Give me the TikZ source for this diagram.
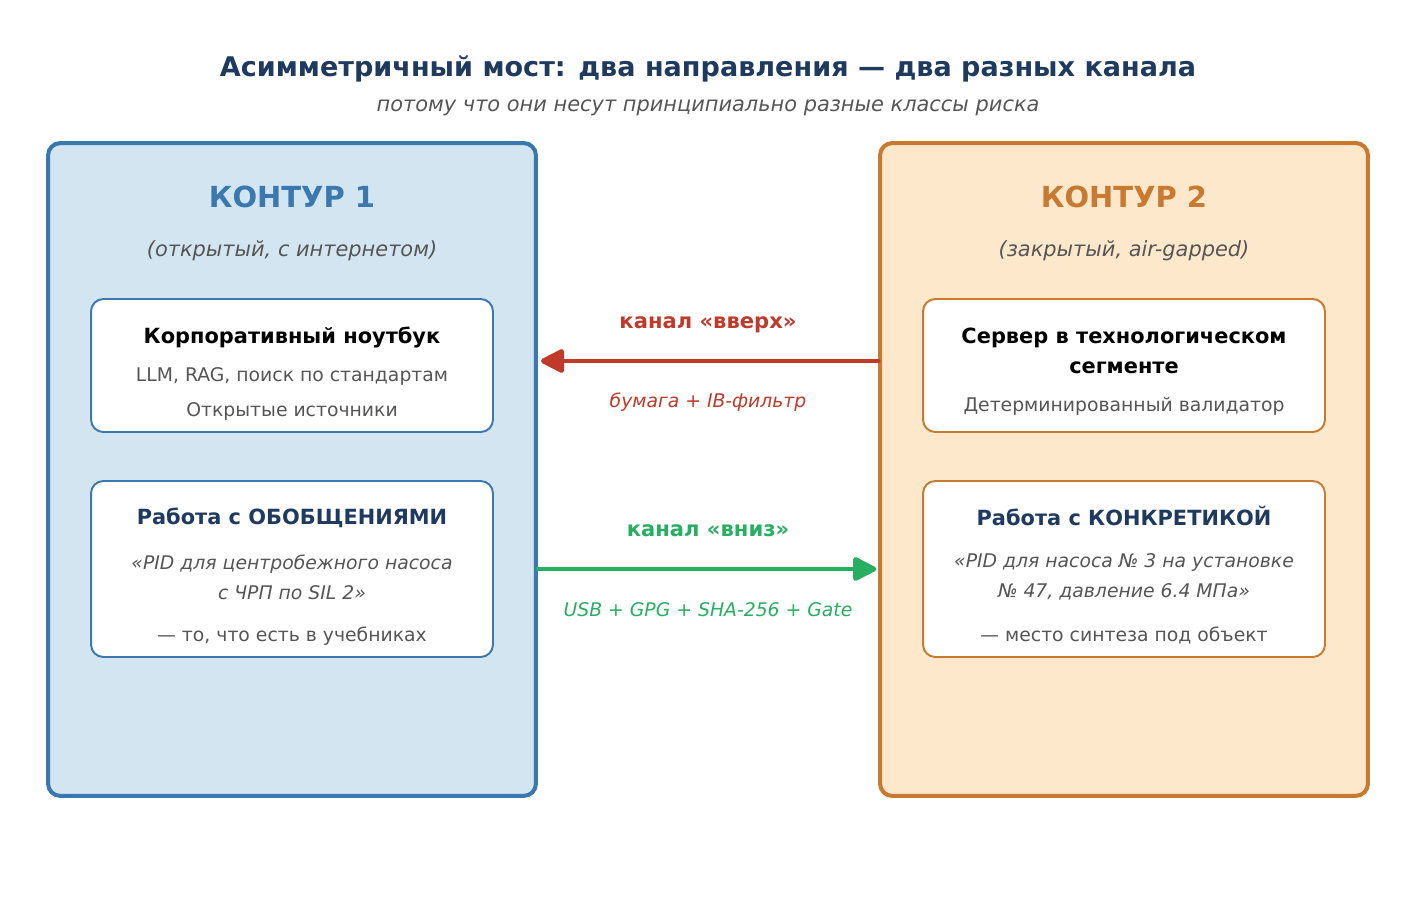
\documentclass[tikz,border=0pt]{standalone}
\usepackage{fontspec}
\setmainfont{DejaVu Sans}
\usetikzlibrary{arrows.meta}
\definecolor{navy}{HTML}{1F3A5F}
\definecolor{greytxt}{HTML}{555555}
\definecolor{kblue}{HTML}{3A78B0}
\definecolor{kbluefill}{HTML}{D4E5F2}
\definecolor{korange}{HTML}{C87A30}
\definecolor{korangefill}{HTML}{FEE8CB}
\definecolor{upred}{HTML}{C0392B}
\definecolor{downgreen}{HTML}{27AE60}
\tikzset{
  outerbox/.style={draw=#1, line width=2.3pt, rounded corners=7pt,
    minimum width=9.76cm, minimum height=13.06cm, inner sep=0pt},
  innerbox/.style={draw=#1, fill=white, line width=1.1pt, rounded corners=7pt,
    minimum width=8.04cm, inner sep=0pt},
  kontur/.style={font=\bfseries\fontsize{16.5pt}{19pt}\selectfont, text=#1},
  kontursub/.style={font=\itshape\fontsize{11.9pt}{14pt}\selectfont, text=greytxt},
  boxhead/.style={font=\bfseries\fontsize{11.9pt}{17pt}\selectfont, align=center},
  boxtext/.style={font=\fontsize{10.7pt}{17pt}\selectfont, text=greytxt, align=center},
  boxquote/.style={font=\itshape\fontsize{10.7pt}{17pt}\selectfont, text=greytxt, align=center},
  chanarrow/.style={line width=2.8pt, -{Triangle[length=15pt,width=14.5pt,round]}, draw=#1},
  chanhead/.style={font=\bfseries\fontsize{12pt}{14pt}\selectfont, text=#1},
  chantext/.style={font=\itshape\fontsize{10.7pt}{13pt}\selectfont, text=#1},
}
\begin{document}
\begin{tikzpicture}[x=0.02cm,y=-0.02cm,line cap=round,line join=round]
  \useasboundingbox (0,0) rectangle (1416,896);
  % title
  \node[font=\bfseries\fontsize{15.4pt}{18pt}\selectfont, text=navy] (title) at (708,69)
    {Асимметричный мост: два направления — два разных канала};
  \node[font=\itshape\fontsize{11.9pt}{14pt}\selectfont, text=greytxt] (subtitle) at (708,108)
    {потому что они несут принципиально разные классы риска};
  % contour 1
  \node[outerbox=kblue, fill=kbluefill] (k1) at (292,469.5) {};
  \node[kontur=kblue] (k1title) at (292,197) {КОНТУР 1};
  \node[kontursub] (k1sub) at (292,251) {(открытый, с интернетом)};
  \node[innerbox=kblue, minimum height=2.66cm] (laptop) at (292,365.5) {};
  \node[boxhead] (laptophead) at (292,337) {Корпоративный ноутбук};
  \node[boxtext] (laptopt1) at (292,376) {LLM, RAG, поиск по стандартам};
  \node[boxtext] (laptopt2) at (292,411) {Открытые источники};
  \node[innerbox=kblue, minimum height=3.52cm] (general) at (292,569) {};
  \node[boxhead, text=navy] (generalhead) at (292,518) {Работа с ОБОБЩЕНИЯМИ};
  \node[boxquote] (generalq) at (292,577) {«PID для центробежного насоса\\с ЧРП по SIL 2»};
  \node[boxtext] (generalt) at (292,636) {— то, что есть в учебниках};
  % contour 2
  \node[outerbox=korange, fill=korangefill] (k2) at (1124,469.5) {};
  \node[kontur=korange] (k2title) at (1124,197) {КОНТУР 2};
  \node[kontursub] (k2sub) at (1124,251) {(закрытый, air-gapped)};
  \node[innerbox=korange, minimum height=2.66cm] (server) at (1124,365.5) {};
  \node[boxhead] (serverhead) at (1124,351) {Сервер в технологическом\\сегменте};
  \node[boxtext] (servert) at (1124,406) {Детерминированный валидатор};
  \node[innerbox=korange, minimum height=3.52cm] (concrete) at (1124,569) {};
  \node[boxhead, text=navy] (concretehead) at (1124,516) {Работа с КОНКРЕТИКОЙ};
  \node[boxquote] (concreteq) at (1124,577) {«PID для насоса № 3 на установке\\№ 47, давление 6.4 МПа»};
  \node[boxtext] (concretet) at (1124,635) {— место синтеза под объект};
  % channels
  \coordinate (uplevel) at (708,361);
  \coordinate (downlevel) at (708,569);
  \draw[chanarrow=upred] (k2.west |- uplevel) -- ([xshift=1.7pt]k1.east |- uplevel);
  \node[chanhead=upred] (uphead) at (708,325) {канал «вверх»};
  \node[chantext=upred] (uptext) at (708,402) {бумага + IB-фильтр};
  \draw[chanarrow=downgreen] (k1.east |- downlevel) -- ([xshift=-1pt]k2.west |- downlevel);
  \node[chanhead=downgreen] (downhead) at (708,531) {канал «вниз»};
  \node[chantext=downgreen] (downtext) at (708,610) {USB + GPG + SHA-256 + Gate};
\end{tikzpicture}
\end{document}
